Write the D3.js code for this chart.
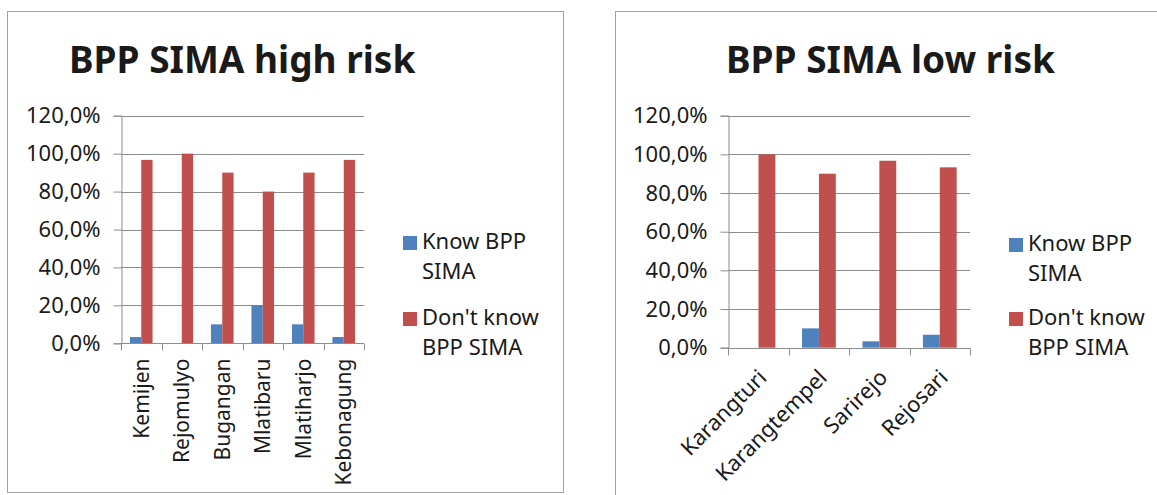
<!DOCTYPE html>
<html>
<head>
<meta charset="utf-8">
<script src="https://cdn.jsdelivr.net/npm/d3@7/dist/d3.min.js"></script>
<style>
  html, body { margin: 0; padding: 0; background: #fff; }
  svg { display: block; }
  text { font-family: "Noto Sans", "Open Sans", sans-serif; fill: #1a1a1a; }
</style>
</head>
<body>
<svg id="chart" width="1157" height="495"></svg>
<script>
// ---------- data ----------
const seriesNames = ["Know BPP SIMA", "Don't know BPP SIMA"];
const legendLines = [["Know BPP", "SIMA"], ["Don't know", "BPP SIMA"]];
const seriesColors = ["#4F81BD", "#C0504D"];

const highTitle = "BPP SIMA high risk";
const highCategories = ["Kemijen", "Rejomulyo", "Bugangan", "Mlatibaru", "Mlatiharjo", "Kebonagung"];
const highKnow = [3.3, 0, 10, 20, 10, 3.3];
const highDontKnow = [96.7, 100, 90, 80, 90, 96.7];

const lowTitle = "BPP SIMA low risk";
const lowCategories = ["Karangturi", "Karangtempel", "Sarirejo", "Rejosari"];
const lowKnow = [0, 10, 3.3, 6.7];
const lowDontKnow = [100, 90, 96.7, 93.3];

const yTickValues = [0, 20, 40, 60, 80, 100, 120];
const yTickLabels = ["0,0%", "20,0%", "40,0%", "60,0%", "80,0%", "100,0%", "120,0%"];

// ---------- drawing ----------
const svg = d3.select("#chart");
const GRID = "#8c8c8c";
const FS = 22;

function drawPanel(cfg) {
  const g = svg.append("g");
  // panel frame
  g.append("rect")
    .attr("x", cfg.frame[0] + 0.5).attr("y", cfg.frame[1] + 0.5)
    .attr("width", cfg.frame[2]).attr("height", cfg.frame[3])
    .attr("fill", "none").attr("stroke", "#a0a0a0").attr("stroke-width", 1);

  // title
  g.append("text")
    .attr("x", cfg.titleX).attr("y", cfg.titleY)
    .attr("font-size", cfg.titleSize).attr("font-weight", "bold")
    .attr("fill", "#000")
    .text(cfg.title);

  const x = d3.scaleBand().domain(cfg.categories).range([cfg.x0, cfg.x1]).padding(0);
  const x1 = d3.scaleBand().domain(seriesNames).range([0, x.bandwidth()]).paddingInner(0).paddingOuter(0.79);
  const y = d3.scaleLinear().domain([0, 120]).range([cfg.y0, cfg.y1]);

  // gridlines
  g.append("g").selectAll("line").data(yTickValues.slice(1)).join("line")
    .attr("x1", cfg.x0).attr("x2", cfg.x1)
    .attr("y1", d => Math.round(y(d)) + 0.5).attr("y2", d => Math.round(y(d)) + 0.5)
    .attr("stroke", GRID).attr("stroke-width", 1);

  // y axis
  const yAxis = d3.axisLeft(y).tickValues(yTickValues)
    .tickFormat((d, i) => yTickLabels[i]).tickSize(8).tickPadding(13);
  const ya = g.append("g").attr("transform", `translate(${Math.round(cfg.x0) + 0.5},0)`).call(yAxis);
  ya.select(".domain").attr("stroke", GRID);
  ya.selectAll(".tick line").attr("stroke", GRID);
  ya.selectAll(".tick text").attr("font-size", FS).attr("fill", "#1a1a1a")
    .attr("font-family", '"Noto Sans", sans-serif');

  // bars
  const data = cfg.categories.map((c, i) => ({ cat: c, vals: [cfg.know[i], cfg.dont[i]] }));
  const grp = g.append("g").selectAll("g").data(data).join("g")
    .attr("transform", d => `translate(${x(d.cat)},0)`);
  grp.selectAll("rect").data(d => d.vals.map((v, k) => ({ k, v }))).join("rect")
    .attr("x", d => x1(seriesNames[d.k]))
    .attr("width", x1.bandwidth())
    .attr("y", d => y(d.v))
    .attr("height", d => y(0) - y(d.v))
    .attr("fill", d => seriesColors[d.k]);

  // x axis
  const xa = g.append("g").attr("transform", `translate(0,${Math.round(cfg.y0) + 0.5})`);
  xa.append("line").attr("x1", cfg.x0).attr("x2", cfg.x1).attr("stroke", GRID);
  const bounds = cfg.categories.map(c => x(c)).concat([cfg.x1]);
  xa.selectAll("line.tk").data(bounds).join("line").attr("class", "tk")
    .attr("x1", d => Math.round(d) + 0.5).attr("x2", d => Math.round(d) + 0.5)
    .attr("y1", 0).attr("y2", 7).attr("stroke", GRID);

  // x labels
  xa.selectAll("text").data(cfg.categories).join("text")
    .attr("font-size", cfg.labSize)
    .attr("text-anchor", "end")
    .attr("transform", d => {
      const cx = x(d) + x.bandwidth() / 2;
      return `translate(${cx + cfg.labDx},${cfg.labDy}) rotate(${cfg.labRot})`;
    })
    .attr("dy", "0.35em")
    .text(d => d);

  // legend
  const lg = g.append("g");
  legendLines.forEach((lines, k) => {
    const by = cfg.legY + k * cfg.legGap;
    lg.append("rect").attr("x", cfg.legX).attr("y", by - 13).attr("width", 14).attr("height", 14)
      .attr("fill", seriesColors[k]);
    lines.forEach((ln, j) => {
      lg.append("text").attr("x", cfg.legX + 19).attr("y", by + j * 30)
        .attr("font-size", FS).text(ln);
    });
  });
}

drawPanel({
  frame: [7, 11, 556, 481],
  title: highTitle, titleX: 69, titleY: 73, titleSize: 37,
  categories: highCategories, know: highKnow, dont: highDontKnow,
  x0: 121, x1: 364, y0: 343.3, y1: 115.7,
  labDx: 0, labDy: 15, labRot: -90, labSize: 21,
  legX: 403, legY: 249, legGap: 76
});

drawPanel({
  frame: [615, 11, 600, 520],
  title: lowTitle, titleX: 726, titleY: 73, titleSize: 37,
  categories: lowCategories, know: lowKnow, dont: lowDontKnow,
  x0: 728.3, x1: 970, y0: 347.7, y1: 115.7,
  labDx: 4, labDy: 25, labRot: -45, labSize: 22,
  legX: 1009, legY: 251, legGap: 74
});
</script>
</body>
</html>
